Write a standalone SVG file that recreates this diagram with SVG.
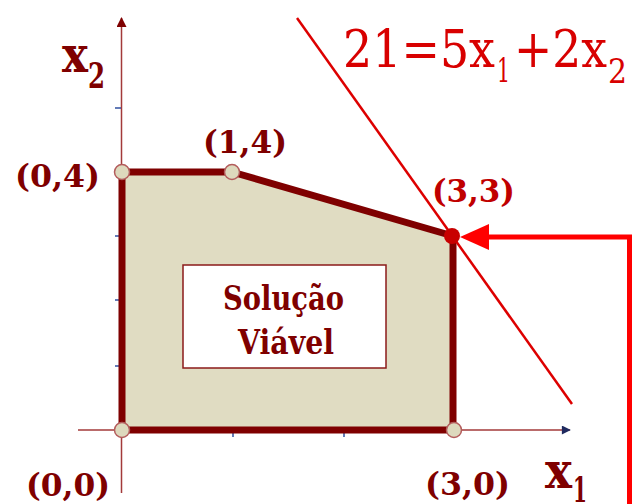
<svg xmlns="http://www.w3.org/2000/svg" width="642" height="504" viewBox="0 0 642 504">
<defs>
<style>
text{font-family:'DejaVu Serif','Liberation Serif',serif;}
.lbl{font-weight:bold;fill:#7f0000;}
.eq{fill:#d80000;}
.axis{stroke:#a33a3a;stroke-width:1.5;fill:none;}
.tick{stroke:#2f4f9f;stroke-width:1.5;}
.vtx{fill:#ddd9bd;stroke:#b35c5c;stroke-width:1.5;}
</style>
<marker id="arrY" viewBox="0 0 10 10" refX="9" refY="5" markerWidth="10" markerHeight="10" markerUnits="userSpaceOnUse" orient="auto"><path d="M0,0 L10,5 L0,10 z" fill="#7f0000"/></marker>
<marker id="arrX" viewBox="0 0 10 10" refX="9" refY="5" markerWidth="10" markerHeight="9" markerUnits="userSpaceOnUse" orient="auto"><path d="M0,0 L10,5 L0,10 z" fill="#1f2a5f"/></marker>
</defs>
<rect width="642" height="504" fill="#ffffff"/>

<g id="axes">
<line class="axis" x1="121.5" y1="493" x2="121.5" y2="18" marker-end="url(#arrY)"/>
<line class="axis" x1="78" y1="430" x2="570" y2="430" marker-end="url(#arrX)"/>
<line class="tick" x1="115" y1="108" x2="121" y2="108"/>
<line class="tick" x1="115" y1="236" x2="121" y2="236"/>
<line class="tick" x1="115" y1="300" x2="121" y2="300"/>
<line class="tick" x1="115" y1="366" x2="121" y2="366"/>
<line class="tick" x1="233" y1="430" x2="233" y2="437"/>
<line class="tick" x1="344" y1="430" x2="344" y2="437"/>
<text class="lbl" font-size="50" x="62" y="72" textLength="26" lengthAdjust="spacingAndGlyphs">x</text>
<text class="lbl" font-size="36" x="88" y="88" textLength="17" lengthAdjust="spacingAndGlyphs">2</text>
<text class="lbl" font-size="50" x="545" y="488" textLength="27" lengthAdjust="spacingAndGlyphs">x</text>
<text class="lbl" font-size="36" x="573" y="502" textLength="14" lengthAdjust="spacingAndGlyphs">1</text>
</g>

<g id="region">
<polygon points="122,172 232,172 453,236 453,430 122,430" fill="#e0dcc2" stroke="#7f0000" stroke-width="7" stroke-linejoin="round"/>
<rect x="183" y="265" width="203" height="103" fill="#ffffff" stroke="#8b1a1a" stroke-width="1.5"/>
<text class="lbl" font-size="34" x="223" y="310" textLength="121" lengthAdjust="spacingAndGlyphs">Solução</text>
<text class="lbl" font-size="34" x="238" y="354" textLength="96" lengthAdjust="spacingAndGlyphs">Viável</text>
</g>

<g id="line21">
<line x1="297" y1="18" x2="572" y2="404" stroke="#dd0000" stroke-width="2.5"/>
<text class="eq" font-size="53" x="343" y="67" textLength="152" lengthAdjust="spacingAndGlyphs">21=5x</text>
<text class="eq" font-size="34" x="497" y="82" textLength="13" lengthAdjust="spacingAndGlyphs">1</text>
<text class="eq" font-size="53" x="514" y="67" textLength="93" lengthAdjust="spacingAndGlyphs">+2x</text>
<text class="eq" font-size="34" x="608" y="83" textLength="19" lengthAdjust="spacingAndGlyphs">2</text>
</g>

<g id="vertices">
<circle class="vtx" cx="122" cy="172" r="7.5"/>
<circle class="vtx" cx="232" cy="172" r="7.5"/>
<circle class="vtx" cx="122" cy="430" r="7.5"/>
<circle class="vtx" cx="454" cy="430" r="7.5"/>
<circle cx="452" cy="236" r="8" fill="#c80000"/>
<text class="lbl" font-size="31" x="15" y="187" textLength="85" lengthAdjust="spacingAndGlyphs">(0,4)</text>
<text class="lbl" font-size="31" x="203" y="153" textLength="84" lengthAdjust="spacingAndGlyphs">(1,4)</text>
<text class="lbl" font-size="31" x="432" y="202" textLength="83" lengthAdjust="spacingAndGlyphs" style="fill:#c00000">(3,3)</text>
<text class="lbl" font-size="31" x="26" y="496" textLength="84" lengthAdjust="spacingAndGlyphs">(0,0)</text>
<text class="lbl" font-size="31" x="425" y="495" textLength="85" lengthAdjust="spacingAndGlyphs">(3,0)</text>
</g>

<g id="connectors">
<polyline points="629.5,504 629.5,237 486,237" fill="none" stroke="#ff0000" stroke-width="5"/>
<path d="M460,237 L489,224 L489,250 z" fill="#ff0000"/>
</g>
</svg>
